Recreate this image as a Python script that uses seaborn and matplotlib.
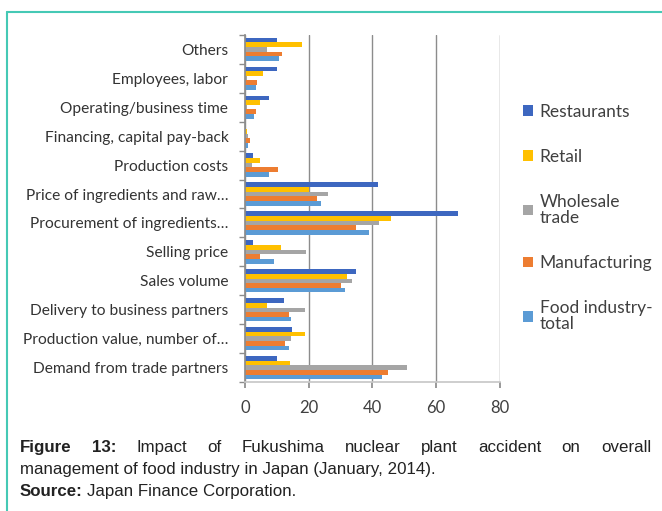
import pandas as pd
import matplotlib.pyplot as plt
import seaborn as sns
from matplotlib.lines import Line2D

# categories, top to bottom
categories = ['Others', 'Employees, labor', 'Operating/business time',
              'Financing, capital pay-back', 'Production costs',
              'Price of ingredients and raw\u2026', 'Procurement of ingredients\u2026',
              'Selling price', 'Sales volume', 'Delivery to business partners',
              'Production value, number of\u2026', 'Demand from trade partners']

series = ['Restaurants', 'Retail', 'Wholesale\ntrade', 'Manufacturing', 'Food industry-\ntotal']

restaurants = [10.1, 10.0, 7.4, 0.0, 2.5, 41.7, 67.0, 2.4, 34.8, 12.3, 14.9, 10.0]
retail = [18.0, 5.8, 4.8, 0.5, 4.8, 20.0, 46.0, 11.3, 32.0, 6.8, 19.0, 14.1]
wholesale = [7.0, 0.5, 0.5, 1.0, 2.1, 26.0, 42.0, 19.3, 33.6, 19.0, 14.6, 51.0]
manufacturing = [11.7, 3.9, 3.5, 1.7, 10.5, 22.7, 34.8, 4.8, 30.0, 13.9, 12.6, 45.0]
food_total = [10.8, 3.5, 3.0, 1.1, 7.4, 24.0, 39.0, 9.2, 31.4, 14.6, 13.9, 43.0]

colors = ['#3d67c0', '#ffc000', '#a5a5a5', '#ed7d31', '#5b9bd5']
xticks = [0, 20, 40, 60, 80]

rows = []
for name, vals in zip(series, [restaurants, retail, wholesale, manufacturing, food_total]):
    for cat, v in zip(categories, vals):
        rows.append({'category': cat, 'series': name, 'value': v})
df = pd.DataFrame(rows)

sns.set_theme(style='white')
plt.rcParams['font.family'] = ['Lato', 'DejaVu Sans']

fig = plt.figure(figsize=(6.62, 5.11), dpi=100)
ax = fig.add_axes([0.370, 0.252, 0.385, 0.680])

sns.barplot(data=df, x='value', y='category', hue='series', order=categories,
            hue_order=series, palette=colors, orient='h', width=0.8, gap=0,
            saturation=1, ax=ax, errorbar=None, legend=True, linewidth=0)

ax.set_xlim(0, 80)
ax.set_xticks(xticks)
ax.set_xlabel('')
ax.set_ylabel('')
ax.grid(axis='x', color='#8c8c8c', linewidth=1)
ax.set_axisbelow(True)
for s in ['top', 'right']:
    ax.spines[s].set_visible(False)
ax.spines['left'].set_color('#8c8c8c')
ax.spines['bottom'].set_color('#c8c8c8')
ax.tick_params(axis='x', labelsize=12, colors='#404040', length=4, color='#8c8c8c',
               bottom=True, pad=9)
ax.tick_params(axis='y', labelsize=11.2, colors='#333333', length=0, pad=12)
ax.set_yticks([i + 0.5 for i in range(-1, len(categories))], minor=True)
ax.tick_params(axis='y', which='minor', left=True, length=4, color='#8c8c8c')

handles, labels = ax.get_legend_handles_labels()
leg = ax.legend(handles, labels, loc='upper left', bbox_to_anchor=(1.03, 0.847),
                frameon=False, fontsize=12.5, handlelength=0.55, handleheight=0.55,
                handletextpad=0.4, labelspacing=1.68, labelcolor='#404040')
for t in leg.get_texts():
    t.set_linespacing(1.0)

# teal frame on top and left
fig.add_artist(Line2D([0.011, 1.0], [0.977, 0.977], color='#45c9b5', lw=1.5))
fig.add_artist(Line2D([0.011, 0.011], [0.0, 0.977], color='#45c9b5', lw=1.5))

# caption with justified first line
cap_font = ['Liberation Sans', 'DejaVu Sans']
cap_size = 12.2
words = ['Figure', '13:', 'Impact', 'of', 'Fukushima', 'nuclear', 'plant',
         'accident', 'on', 'overall']
bold = [True, True] + [False] * 8
fig.canvas.draw()
r = fig.canvas.get_renderer()
x0, x1 = 20, 651
texts = []
for w, b in zip(words, bold):
    t = fig.text(0, 0, w, fontsize=cap_size, family=cap_font, color='#222222',
                 fontweight='bold' if b else 'normal', transform=None)
    texts.append(t)
widths = [t.get_window_extent(r).width for t in texts]
gap = (x1 - x0 - sum(widths)) / (len(words) - 1)
x = x0
for t, wd in zip(texts, widths):
    t.set_position((x, 511 - 452))
    x += wd + gap

fig.text(20 / 662, 1 - 474 / 511, 'management of food industry in Japan (January, 2014).',
         fontsize=cap_size, family=cap_font, color='#222222')
src = fig.text(20, 511 - 496, 'Source:', fontsize=cap_size, family=cap_font,
               color='#222222', fontweight='bold', transform=None)
sw = src.get_window_extent(r).width
fig.text(20 + sw + 4, 511 - 496, 'Japan Finance Corporation.', fontsize=cap_size,
         family=cap_font, color='#222222', transform=None)

fig.savefig('out.png', dpi=100)
